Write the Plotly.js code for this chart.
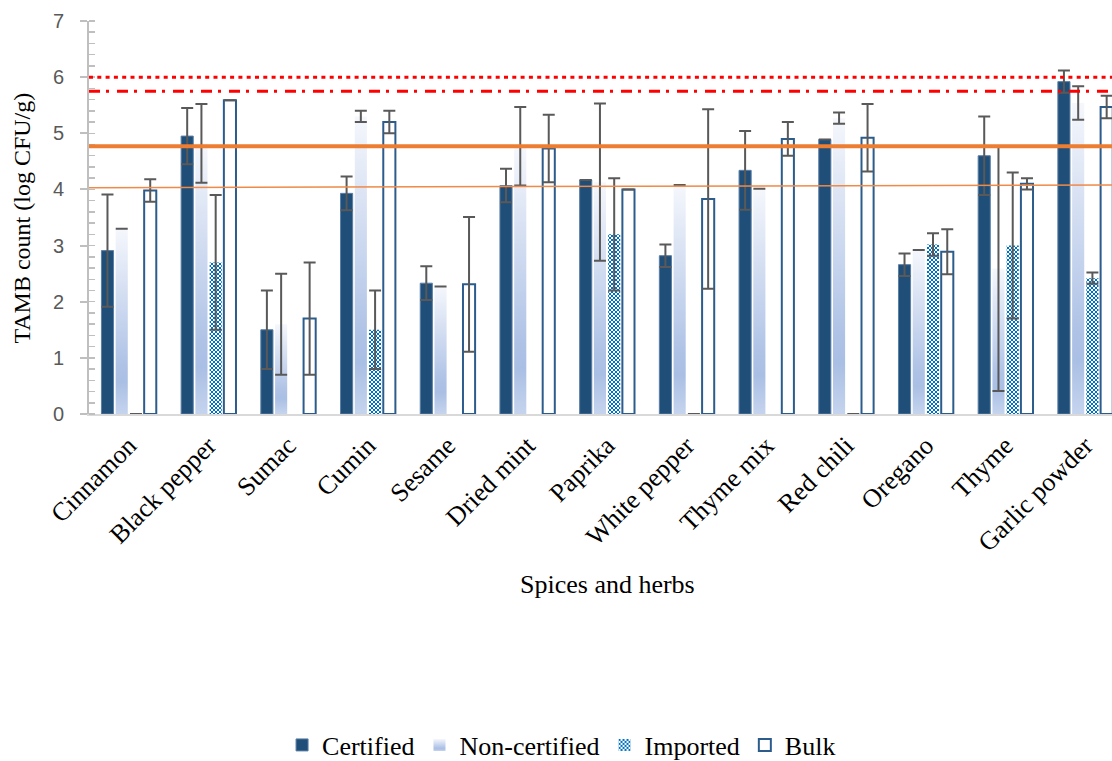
<!DOCTYPE html>
<html>
<head>
<meta charset="utf-8">
<script src="https://cdn.plot.ly/plotly-3.0.1.min.js"></script>
<style>
  html, body { margin: 0; padding: 0; background: #ffffff; }
  #chart { width: 1112px; height: 761px; }
</style>
</head>
<body>
<div id="chart"></div>
<script>
// Total aerobic mesophilic bacteria counts by product type
const categories = ['Cinnamon', 'Black pepper', 'Sumac', 'Cumin', 'Sesame', 'Dried mint',
  'Paprika', 'White pepper', 'Thyme mix', 'Red chili', 'Oregano', 'Thyme', 'Garlic powder'];

const certified    = [2.91, 4.95, 1.50, 3.93, 2.33, 4.07, 4.17, 2.82, 4.34, 4.89, 2.66, 4.60, 5.92];
const certifiedSd  = [1.0, 0.5, 0.7, 0.3, 0.3, 0.3, 0, 0.2, 0.7, 0, 0.2, 0.7, 0.2];

const nonCertified   = [3.30, 4.82, 1.60, 5.30, 2.27, 4.77, 4.13, 4.08, 4.01, 5.27, 2.92, 2.59, 5.54];
const nonCertifiedSd = [0, 0.7, 0.9, 0.1, 0, 0.7, 1.4, 0, 0, 0.1, 0, 2.18, 0.3];

const imported   = [0, 2.70, null, 1.50, null, null, 3.20, 0, null, 0, 3.02, 3.00, 2.42];
const importedSd = [0, 1.2, 0, 0.7, 0, 0, 1.0, 0, 0, 0, 0.2, 1.3, 0.1];

const bulk   = [3.98, 5.59, 1.70, 5.20, 2.31, 4.73, 4.00, 3.83, 4.90, 4.92, 2.89, 4.10, 5.47];
const bulkSd = [0.2, 0, 1.0, 0.2, 1.2, 0.6, 0, 1.6, 0.3, 0.6, 0.4, 0.1, 0.2];

// Reference limits (log CFU/g): [start, end]
const limitDotted   = [6.0, 6.0];
const limitDashDot  = [5.75, 5.75];
const limitThick    = [4.77, 4.77];
const limitThin     = [4.03, 4.08];

const serif = 'Liberation Serif';
const sans = 'Liberation Sans';

function errorBars(values) {
  return { type: 'data', array: values, visible: true, color: '#595959', thickness: 2, width: 6 };
}

const traces = [
  { type: 'bar', name: 'Certified', x: categories, y: certified, error_y: errorBars(certifiedSd),
    marker: { color: '#1f4e79', line: { color: '#5a7ea5', width: 1 } } },
  { type: 'bar', name: 'Non-certified', x: categories, y: nonCertified, error_y: errorBars(nonCertifiedSd),
    marker: { color: '#b4c7e7', line: { width: 0 } } },
  { type: 'bar', name: 'Imported', x: categories, y: imported, error_y: errorBars(importedSd),
    marker: { color: '#0070c0', line: { width: 0 } } },
  { type: 'bar', name: 'Bulk', x: categories, y: bulk, error_y: errorBars(bulkSd),
    marker: { color: '#ffffff', line: { color: '#2c5c8c', width: 2 } } }
];

function hline(vals, color, width, dash) {
  return { type: 'line', xref: 'paper', yref: 'y', x0: 0, x1: 1, y0: vals[0], y1: vals[1],
    layer: 'above', line: { color: color, width: width, dash: dash } };
}

const layout = {
  width: 1112, height: 761,
  margin: { l: 89, r: 0, t: 21, b: 347 },
  paper_bgcolor: '#ffffff', plot_bgcolor: '#ffffff',
  barmode: 'group', bargap: 0.285, bargroupgap: 0.15,
  showlegend: true,
  font: { family: serif, color: '#000000' },
  xaxis: {
    type: 'category', range: [-0.5, 12.335], fixedrange: true,
    showline: true, linecolor: '#d9d9d9', linewidth: 2,
    ticks: '', showgrid: false, zeroline: false,
    ticklabelstandoff: 4,
    tickangle: -45, tickfont: { family: serif, size: 26, color: '#000000' }
  },
  yaxis: {
    range: [0, 7], dtick: 1, showgrid: false, zeroline: false,
    showline: true, linecolor: '#bfbfbf', linewidth: 2,
    ticks: 'outside', ticklen: 7, tickwidth: 2, tickcolor: '#bfbfbf',
    ticklabelstandoff: 12,
    tickfont: { family: sans, size: 20, color: '#595959' },
    minor: { ticks: 'inside', ticklen: 6, dtick: 0.2, tickcolor: '#bfbfbf', tickwidth: 1.5 }
  },
  yaxis2: {
    overlaying: 'y', anchor: 'x', side: 'left', range: [0, 7], dtick: 1,
    showgrid: false, zeroline: false, showline: false, showticklabels: false,
    ticks: 'inside', ticklen: 8, tickwidth: 2, tickcolor: '#bfbfbf'
  },
  legend: {
    orientation: 'h', xref: 'container', yref: 'container',
    x: 0.505, xanchor: 'center', y: 0.021, yanchor: 'middle',
    font: { family: serif, size: 26, color: '#000000' },
    bgcolor: 'rgba(0,0,0,0)'
  },
  shapes: [
    hline(limitDotted, '#ff0000', 3, '4px,4.3px'),
    hline(limitDashDot, '#ff0000', 3, '11px,6px,3px,8px'),
    hline(limitThick, '#ed7d31', 4, 'solid'),
    hline(limitThin, '#ef8a48', 1.5, 'solid')
  ],
  annotations: [
    { text: 'TAMB count (log CFU/g)', xref: 'paper', yref: 'paper', x: -0.0655, y: 0.5,
      xanchor: 'center', yanchor: 'middle', textangle: -90, showarrow: false,
      font: { family: serif, size: 24, color: '#000000' } },
    { text: 'Spices and herbs', xref: 'paper', yref: 'paper', x: 0.5064, y: -0.435,
      xanchor: 'center', yanchor: 'middle', showarrow: false,
      font: { family: serif, size: 26, color: '#000000' } }
  ]
};

// Gradient fill for the non-certified bars and a checker pattern for imported ones
function paintFills(gd) {
  const NS = 'http://www.w3.org/2000/svg';
  const svg = gd.querySelector('svg.main-svg');
  let defs = svg.querySelector('defs');
  if (!defs) { defs = document.createElementNS(NS, 'defs'); svg.insertBefore(defs, svg.firstChild); }

  const grad = document.createElementNS(NS, 'linearGradient');
  grad.setAttribute('id', 'nonCertGrad');
  grad.setAttribute('x1', '0'); grad.setAttribute('y1', '0');
  grad.setAttribute('x2', '0'); grad.setAttribute('y2', '1');
  [[0, '#f5f7fc'], [0.74, '#aec2e6'], [0.83, '#aabfe4'], [1, '#c5d4ee']].forEach(function (s) {
    const st = document.createElementNS(NS, 'stop');
    st.setAttribute('offset', s[0]);
    st.setAttribute('stop-color', s[1]);
    grad.appendChild(st);
  });
  defs.appendChild(grad);

  const pat = document.createElementNS(NS, 'pattern');
  pat.setAttribute('id', 'importChecker');
  pat.setAttribute('patternUnits', 'userSpaceOnUse');
  pat.setAttribute('width', '4'); pat.setAttribute('height', '4');
  [[0, 0, 4, 4, '#ffffff'], [0, 0, 2, 2, '#0070c0'], [2, 2, 2, 2, '#0070c0']].forEach(function (r) {
    const el = document.createElementNS(NS, 'rect');
    el.setAttribute('x', r[0]); el.setAttribute('y', r[1]);
    el.setAttribute('width', r[2]); el.setAttribute('height', r[3]);
    el.setAttribute('fill', r[4]);
    pat.appendChild(el);
  });
  defs.appendChild(pat);

  const fills = { 1: 'url(#nonCertGrad)', 2: 'url(#importChecker)' };
  const barTraces = gd.querySelectorAll('.barlayer .trace');
  const legendTraces = gd.querySelectorAll('.legend .traces');
  Object.keys(fills).forEach(function (i) {
    if (barTraces[i]) barTraces[i].querySelectorAll('.points path').forEach(function (p) { p.style.fill = fills[i]; });
    if (legendTraces[i]) legendTraces[i].querySelectorAll('.legendpoints path').forEach(function (p) { p.style.fill = fills[i]; });
  });
}

Plotly.newPlot('chart', traces, layout, { staticPlot: true, displayModeBar: false }).then(paintFills);
</script>
</body>
</html>
